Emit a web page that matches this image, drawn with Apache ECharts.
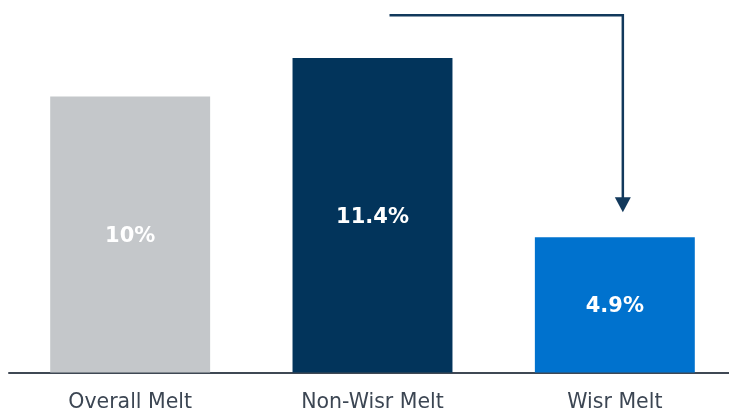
<!DOCTYPE html>
<html>
<head>
<meta charset="utf-8">
<script src="https://cdn.jsdelivr.net/npm/echarts@6/dist/echarts.min.js"></script>
<style>
html,body{margin:0;padding:0;background:#fff;overflow:hidden;}
#c{width:729px;height:411px;}
</style>
</head>
<body>
<div id="c"></div>
<script>
const categories = ['Overall Melt', 'Non-Wisr Melt', 'Wisr Melt'];
const values = [10, 11.4, 4.9];
const valueLabels = ['10%', '11.4%', '4.9%'];
const barColors = ['#C4C7CA', '#02345B', '#0072CE'];

const chart = echarts.init(document.getElementById('c'), null, {renderer: 'canvas'});
const arrowColor = '#12395C';

chart.setOption({
  animation: false,
  grid: {left: 9, width: 727, top: 0, bottom: 38.5, containLabel: false, outerBoundsMode: 'none'},
  xAxis: {
    type: 'category',
    data: categories,
    axisLine: {show: true, lineStyle: {color: '#3F4854', width: 2}},
    axisTick: {show: false},
    axisLabel: {fontFamily: 'DejaVu Sans', fontSize: 20.5, color: '#3C4653', margin: 20}
  },
  yAxis: {
    type: 'value', min: 0, max: 13.5,
    show: false, splitLine: {show: false}
  },
  series: [{
    type: 'bar',
    barWidth: '66%',
    data: values.map((v, i) => ({value: v, itemStyle: {color: barColors[i]}})),
    label: {
      show: true, position: 'inside', offset: [0, 2],
      formatter: p => valueLabels[p.dataIndex],
      fontFamily: 'DejaVu Sans', fontSize: 21, fontWeight: 'bold', color: '#fff'
    }
  }]
});

function drawArrow() {
  const c1 = chart.convertToPixel({xAxisIndex: 0, yAxisIndex: 0}, [1, 13]);
  const c2 = chart.convertToPixel({xAxisIndex: 0, yAxisIndex: 0}, [2, values[2]]);
  const x0 = c1[0] + 17, yTop = c1[1] + 1.5;
  const x1 = c2[0] + 8, tipY = c2[1] - 25;
  chart.setOption({
    graphic: [
      {type: 'polyline', shape: {points: [[x0, yTop], [x1, yTop], [x1, tipY - 14]]},
       style: {stroke: arrowColor, lineWidth: 2.5, fill: null}},
      {type: 'polygon', shape: {points: [[x1 - 8, tipY - 15], [x1 + 8, tipY - 15], [x1, tipY]]},
       style: {fill: arrowColor}}
    ]
  });
}
drawArrow();
</script>
</body>
</html>
